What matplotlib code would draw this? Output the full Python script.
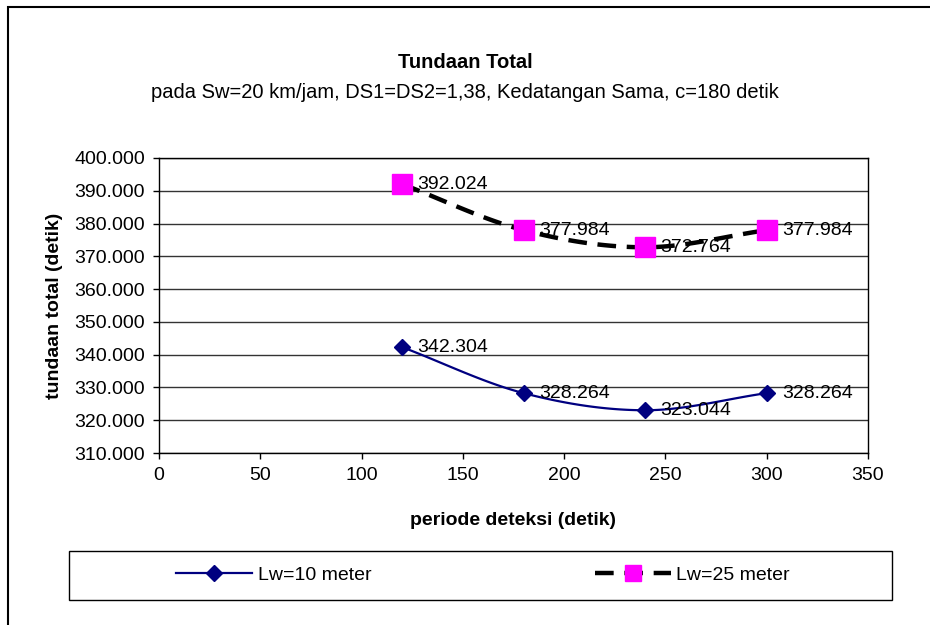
import matplotlib.pyplot as plt
from matplotlib.lines import Line2D
from matplotlib.patches import Rectangle
import numpy as np

plt.rcParams['font.family'] = ['Liberation Sans', 'DejaVu Sans']

periode = [120, 180, 240, 300]
lw10 = [342.304, 328.264, 323.044, 328.264]
lw25 = [392.024, 377.984, 372.764, 377.984]
label10 = "Lw=10 meter"
label25 = "Lw=25 meter"


def smooth(x, y, n=40):
    # catmull-rom curve through the points, like excel's "smoothed line"
    x = np.asarray(x, float)
    y = np.asarray(y, float)
    px = np.concatenate([[2 * x[0] - x[1]], x, [2 * x[-1] - x[-2]]])
    py = np.concatenate([[2 * y[0] - y[1]], y, [2 * y[-1] - y[-2]]])
    xs, ys = [], []
    t = np.linspace(0, 1, n)
    for i in range(1, len(px) - 2):
        for p, out in ((px, xs), (py, ys)):
            p0, p1, p2, p3 = p[i - 1], p[i], p[i + 1], p[i + 2]
            out.extend(0.5 * (2 * p1 + (-p0 + p2) * t
                              + (2 * p0 - 5 * p1 + 4 * p2 - p3) * t ** 2
                              + (-p0 + 3 * p1 - 3 * p2 + p3) * t ** 3))
    return xs, ys


fs = 14

fig = plt.figure(figsize=(9.3, 6.25), dpi=100)
ax = fig.add_axes([159 / 930, 1 - 453 / 625, 709 / 930, 295 / 625])

# outer chart border (left and top visible)
fig.patches.append(Rectangle((8 / 930, -0.1), 1.2, 1 - 7 / 625 + 0.1, transform=fig.transFigure,
                             fill=False, edgecolor='black', linewidth=1.5))

sx, sy = smooth(periode, lw10)
ax.plot(sx, sy, color='#000080', linewidth=1.6, zorder=3)
ax.plot(periode, lw10, linestyle='none', marker='D', color='#000080', markersize=8.5, zorder=4)

sx, sy = smooth(periode, lw25)
ax.plot(sx, sy, color='black', linewidth=3.2, dashes=(4.2, 2.4), zorder=3)
ax.plot(periode, lw25, linestyle='none', marker='s', color='#FF00FF', markersize=14, zorder=4)

for xs, ys in ((periode, lw10), (periode, lw25)):
    for x, y in zip(xs, ys):
        ax.annotate("%.3f" % y, (x, y), xytext=(11, 0), textcoords='offset points',
                    va='center', ha='left', fontsize=fs, zorder=5)

ax.set_xlim(0, 350)
ax.set_ylim(310, 400)
ax.set_xticks(np.arange(0, 351, 50))
ax.set_yticks(np.arange(310, 401, 10))
ax.set_yticklabels(["%.3f" % v for v in np.arange(310, 401, 10)])
ax.yaxis.grid(True, color='#333333', linewidth=1)
ax.set_axisbelow(True)
ax.tick_params(direction='out', length=4, width=1, labelsize=fs, pad=6)
for s in ax.spines.values():
    s.set_color('black')
    s.set_linewidth(1)

ax.set_xlabel("periode deteksi (detik)", fontsize=fs, fontweight='bold', labelpad=20)
ax.set_ylabel("tundaan total (detik)", fontsize=fs, fontweight='bold', labelpad=8)

fig.text(0.5, 1 - 62 / 625, "Tundaan Total", ha='center', va='center', fontsize=14.5, fontweight='bold')
fig.text(0.5, 1 - 92 / 625, "pada Sw=20 km/jam, DS1=DS2=1,38, Kedatangan Sama, c=180 detik",
         ha='center', va='center', fontsize=14.5)

# legend box
fig.patches.append(Rectangle((69 / 930, 1 - 600 / 625), 823 / 930, 49 / 625, transform=fig.transFigure,
                             fill=False, edgecolor='black', linewidth=1))
handles = [
    Line2D([], [], color='#000080', linewidth=1.6, marker='D', markersize=8.5),
    Line2D([], [], color='black', linewidth=3.2, dashes=(4.2, 2.4), marker='s',
           markerfacecolor='#FF00FF', markeredgecolor='#FF00FF', markersize=11),
]
fig.legend(handles, [label10, label25], loc='center',
           bbox_to_anchor=(483 / 930, 1 - 575 / 625), ncol=2, frameon=False,
           fontsize=fs, handlelength=3.9, handletextpad=0.3, columnspacing=11.5)

fig.savefig("out.png", dpi=100)
